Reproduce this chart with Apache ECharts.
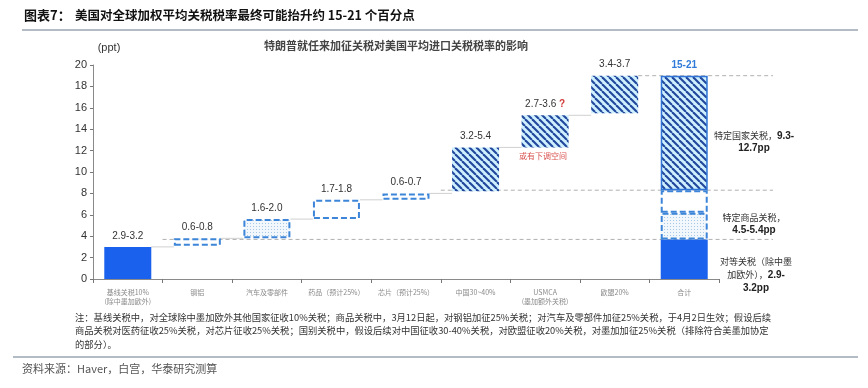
<!DOCTYPE html>
<html><head><meta charset="utf-8">
<script src="https://cdn.jsdelivr.net/npm/echarts@6/dist/echarts.min.js"></script>
<style>html,body{margin:0;padding:0;background:#fff}#c{width:868px;height:388px}</style>
</head><body><div id="c"></div>
<script>
// ---- data ----
const categories = ['基线关税10%\n(除中墨加欧外)', '钢铝', '汽车及零部件', '药品（预计25%）', '芯片（预计25%）', '中国30~40%', 'USMCA\n(墨加额外关税)', '欧盟20%', '合计'];
const lowValues  = [0, 3.1, 3.8, 5.6, 7.4, 8.2, 12.3, 15.5];
const highValues = [3.0, 3.8, 5.6, 7.4, 8.0, 12.3, 15.3, 19.0];
const rangeLabels = ['2.9-3.2', '0.6-0.8', '1.6-2.0', '1.7-1.8', '0.6-0.7', '3.2-5.4', '2.7-3.6', '3.4-3.7'];
const totalSolidTop = 3.7;   // 对等关税
const totalDottedTop = 6.2;  // 特定商品关税 (lower)
const totalDashedTop = 8.3;  // 特定商品关税 (upper)
const totalTop = 19.0;       // 特定国家关税
const totalLabel = '15-21';
const yTicks = [0, 2, 4, 6, 8, 10, 12, 14, 16, 18, 20];

// ---- styles ----
const BLUE = '#1A62EE', DASH = '#3D85D8';
function hatch() {
  const s = 7;
  const c = document.createElement('canvas'); c.width = s; c.height = s;
  const g = c.getContext('2d');
  g.fillStyle = '#CFF0FF'; g.fillRect(0, 0, s, s);
  g.strokeStyle = '#23479C'; g.lineWidth = 2.1;
  for (const k of [-s, 0, s]) { g.beginPath(); g.moveTo(k, 0); g.lineTo(k + s, s); g.stroke(); }
  return { image: c, repeat: 'repeat' };
}
function dots() {
  const c = document.createElement('canvas'); c.width = 3; c.height = 3;
  const g = c.getContext('2d');
  g.fillStyle = '#F2F7FC'; g.fillRect(0, 0, 3, 3);
  g.fillStyle = '#A8C8E8'; g.fillRect(1, 1, 1, 1);
  return { image: c, repeat: 'repeat' };
}
const HATCH = hatch(), DOTS = dots();
const styleKinds = ['solid', 'dash', 'dots', 'dash', 'dash', 'hatch', 'hatch', 'hatch', 'solid'];
function styleOf(kind) {
  if (kind === 'solid') return { color: BLUE };
  if (kind === 'dash') return { color: '#fff', borderColor: DASH, borderWidth: 2, borderType: [6, 3] };
  if (kind === 'dots') return { color: DOTS, borderColor: DASH, borderWidth: 2, borderType: [6, 3] };
  return { color: HATCH };
}
const BW = 47;
const N = categories.length;

const baseData = categories.map((c, i) => i < lowValues.length ? lowValues[i] : 0);
const segData = categories.map((c, i) => ({
  value: i < highValues.length ? +(highValues[i] - lowValues[i]).toFixed(2) : totalSolidTop,
  itemStyle: styleOf(styleKinds[i]),
  label: { show: i < rangeLabels.length }
}));
const onlyTotal = v => categories.map((c, i) => i === N - 1 ? +v.toFixed(2) : '-');

const connectorData = highValues.slice(0, highValues.length - 1).map((v, i) => [i, v]);
const refLevels = [totalSolidTop, totalDashedTop, totalTop];
const refFromCat = [1, 5, 7];
const refData = refLevels.map((v, i) => [refFromCat[i], v, i]);

const chart = echarts.init(document.getElementById('c'));
const FONT = '"Noto Sans CJK SC", sans-serif';
chart.setOption({
  animation: false,
  backgroundColor: '#fff',
  grid: { left: 93, right: 149, top: 65, bottom: 109 },
  xAxis: {
    type: 'category', data: categories,
    axisLine: { lineStyle: { color: '#8a8a8a', width: 1 } },
    axisTick: { show: true, length: 4, lineStyle: { color: '#777' } },
    axisLabel: { fontSize: 7, color: '#8a8a8a', margin: 9, lineHeight: 9, fontFamily: FONT, interval: 0 }
  },
  yAxis: {
    type: 'value', min: 0, max: 20, interval: 2,
    axisLine: { show: true, lineStyle: { color: '#8a8a8a' } },
    axisTick: { show: true, length: 3, lineStyle: { color: '#777' } },
    splitLine: { show: false },
    axisLabel: { fontSize: 11, color: '#333', margin: 6, fontFamily: 'Liberation Sans, Arial' }
  },
  series: [
    { type: 'custom', z: 1, clip: false, silent: true, data: refData,
      renderItem: (params, api) => {
        const p = api.coord([api.value(0), api.value(1)]);
        const bw = api.size([1, 0])[0];
        const end = api.coord([N - 1, 0])[0] + bw / 2 + 54;
        const start = api.value(2) === 2 ? p[0] + BW / 2 : p[0] - bw / 2;
        return { type: 'line', shape: { x1: start, y1: p[1], x2: end, y2: p[1] },
          style: { stroke: '#b0b0b0', lineWidth: 1, lineDash: [4, 3] } };
      } },
    { type: 'custom', z: 1, clip: false, silent: true, data: connectorData,
      renderItem: (params, api) => {
        const p = api.coord([api.value(0), api.value(1)]);
        const bw = api.size([1, 0])[0];
        return { type: 'line', shape: { x1: p[0] + BW / 2, y1: p[1], x2: p[0] + bw - BW / 2, y2: p[1] },
          style: { stroke: '#d0d0d0', lineWidth: 1 } };
      } },
    { type: 'bar', stack: 'w', z: 2, barWidth: BW, data: baseData, itemStyle: { color: 'transparent' }, silent: true },
    { type: 'bar', stack: 'w', z: 2, barWidth: BW, data: segData,
      label: { position: 'top', distance: 6, fontSize: 10, color: '#333', fontFamily: 'Liberation Sans, Arial',
        formatter: p => p.dataIndex === 6 ? '{a|' + rangeLabels[6] + '} {q|?}' : rangeLabels[p.dataIndex] || '',
        rich: { a: { fontSize: 10, color: '#333', fontFamily: 'Liberation Sans, Arial' },
                q: { fontSize: 10, color: '#D23B3B', fontWeight: 'bold', fontFamily: 'Liberation Sans, Arial' } } } },
    { type: 'bar', stack: 'w', z: 2, barWidth: BW, data: onlyTotal(totalDottedTop - totalSolidTop),
      itemStyle: { color: DOTS, borderColor: DASH, borderWidth: 2, borderType: [6, 3] } },
    { type: 'bar', stack: 'w', z: 2, barWidth: BW, data: onlyTotal(totalDashedTop - totalDottedTop),
      itemStyle: { color: '#fff', borderColor: DASH, borderWidth: 2, borderType: [6, 3] } },
    { type: 'bar', stack: 'w', z: 2, barWidth: BW, data: onlyTotal(totalTop - totalDashedTop),
      itemStyle: { color: HATCH, borderColor: '#2F74D6', borderWidth: 1.5 },
      label: { show: true, position: 'top', distance: 5, formatter: totalLabel, fontSize: 10, fontWeight: 'bold',
        color: '#2F7AD8', fontFamily: 'Liberation Sans, Arial' } }
  ],
  graphic: [
    { type: 'text', left: 24, top: 9, style: { text: '图表7：', font: 'bold 13px ' + FONT, fill: '#111' } },
    { type: 'text', left: 75, top: 9, style: { text: '美国对全球加权平均关税税率最终可能抬升约 15-21 个百分点', font: 'bold 12.5px ' + FONT, fill: '#111' } },
    { type: 'line', shape: { x1: 22, y1: 30, x2: 858, y2: 30 }, style: { stroke: '#9aa5b1', lineWidth: 1.5 } },
    { type: 'text', x: 396, y: 46, style: { text: '特朗普就任来加征关税对美国平均进口关税税率的影响', font: 'bold 11px ' + FONT, fill: '#444', align: 'center', verticalAlign: 'middle' } },
    { type: 'text', x: 109, y: 48, style: { text: '(ppt)', font: '11px Liberation Sans, Arial', fill: '#333', align: 'center', verticalAlign: 'middle' } },
    { type: 'text', x: 543, y: 156, style: { text: '或有下调空间', font: '8px ' + FONT, fill: '#D9534F', align: 'center', verticalAlign: 'middle' } },
    { type: 'text', x: 754, y: 142, style: { text: '特定国家关税，{b|9.3-}\n{b|12.7pp}', font: '9px ' + FONT, fill: '#333', align: 'center', verticalAlign: 'middle', lineHeight: 12,
      rich: { b: { font: 'bold 10px Liberation Sans, Arial', fill: '#222', lineHeight: 12 } } } },
    { type: 'text', x: 754, y: 224, style: { text: '特定商品关税，\n{b|4.5-5.4pp}', font: '9px ' + FONT, fill: '#333', align: 'center', verticalAlign: 'middle', lineHeight: 12,
      rich: { b: { font: 'bold 10px Liberation Sans, Arial', fill: '#222', lineHeight: 12 } } } },
    { type: 'text', x: 756, y: 275, style: { text: '对等关税（除中墨\n加欧外），{b|2.9-}\n{b|3.2pp}', font: '9px ' + FONT, fill: '#333', align: 'center', verticalAlign: 'middle', lineHeight: 13,
      rich: { b: { font: 'bold 10px Liberation Sans, Arial', fill: '#222', lineHeight: 13 } } } },
    { type: 'text', left: 75, top: 311, style: { text: '注：基线关税中，对全球除中墨加欧外其他国家征收10%关税；商品关税中，3月12日起，对钢铝加征25%关税；对汽车及零部件加征25%关税，于4月2日生效；假设后续\n商品关税对医药征收25%关税，对芯片征收25%关税；国别关税中，假设后续对中国征收30-40%关税，对欧盟征收20%关税，对墨加加征25%关税（排除符合美墨加协定\n的部分）。', font: '9.3px ' + FONT, fill: '#333', lineHeight: 13.3 } },
    { type: 'line', shape: { x1: 13, y1: 357, x2: 858, y2: 357 }, style: { stroke: '#9aa5b1', lineWidth: 1.5 } },
    { type: 'text', left: 22, top: 363, style: { text: '资料来源：Haver，白宫，华泰研究测算', font: '11px ' + FONT, fill: '#555' } }
  ]
});
</script></body></html>
